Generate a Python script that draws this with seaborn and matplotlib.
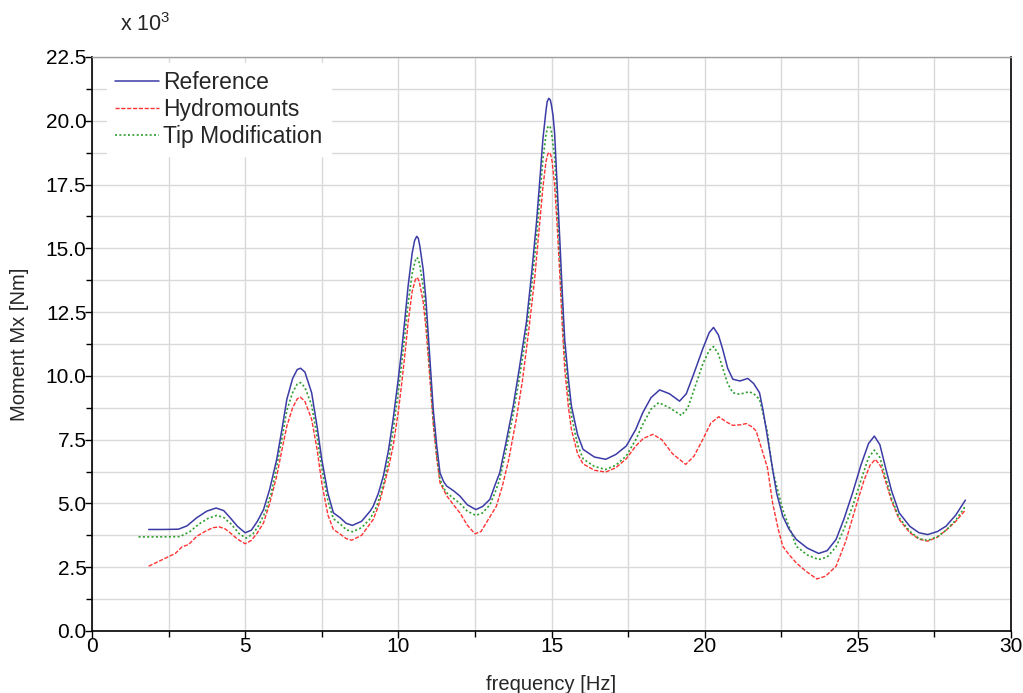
import numpy as np
import pandas as pd
import matplotlib
matplotlib.use("Agg")
import matplotlib.pyplot as plt
from matplotlib.ticker import MultipleLocator, FormatStrFormatter
import seaborn as sns

# ---------------- data (moment values in units of 10^3 Nm) ----------------
ref_f = [1.85, 2.3, 2.82, 3.1, 3.42, 3.75, 4.05, 4.3, 4.51, 4.75, 5.0, 5.2, 5.4, 5.6, 5.8,
         6.03, 6.2, 6.36, 6.55, 6.7, 6.81, 6.95, 7.17, 7.35, 7.5, 7.7, 7.88, 8.1, 8.3, 8.5,
         8.8, 9.08, 9.18, 9.35, 9.51, 9.68, 9.83, 10.0, 10.1, 10.22, 10.32, 10.45, 10.53, 10.6,
         10.65, 10.7, 10.81, 10.9, 10.98, 11.06, 11.14, 11.25, 11.36, 11.48, 11.58, 11.8, 12.01,
         12.25, 12.53, 12.75, 12.99, 13.15, 13.31, 13.5, 13.75, 13.95, 14.18, 14.35, 14.51,
         14.62, 14.72, 14.82, 14.86, 14.91, 14.96, 15.0, 15.05, 15.1, 15.18, 15.27, 15.35, 15.43,
         15.55, 15.65, 15.85, 16.03, 16.4, 16.77, 17.1, 17.44, 17.75, 17.98, 18.25, 18.53, 18.85,
         19.18, 19.4, 19.62, 19.95, 20.15, 20.29, 20.45, 20.59, 20.75, 20.92, 21.15, 21.41, 21.6,
         21.79, 21.9, 22.05, 22.22, 22.35, 22.55, 22.75, 22.99, 23.35, 23.72, 24.0, 24.29,
         24.55, 24.83, 25.1, 25.35, 25.54, 25.72, 25.92, 26.1, 26.35, 26.7, 27.0, 27.28,
         27.6, 27.88, 28.2, 28.51]
ref_m = [3.98, 3.98, 3.99, 4.12, 4.44, 4.70, 4.82, 4.72, 4.44, 4.10, 3.85, 3.95, 4.30, 4.76, 5.55,
         6.73, 7.90, 9.08, 9.90, 10.25, 10.30, 10.15, 9.34, 8.0, 6.73, 5.40, 4.63, 4.44, 4.22, 4.14,
         4.30, 4.70, 4.89, 5.40, 6.07, 7.10, 8.30, 9.90, 10.91, 12.3, 13.53, 14.8, 15.3, 15.47,
         15.4, 15.1, 14.18, 13.0, 11.57, 10.1, 8.69, 7.3, 6.20, 5.85, 5.68, 5.50, 5.29,
         4.95, 4.76, 4.88, 5.16, 5.7, 6.2, 7.3, 8.82, 10.3, 12.09, 14.0, 16.02,
         17.7, 19.29, 20.4, 20.75, 20.88, 20.82, 20.6, 20.2, 19.55, 17.6, 15.36, 13.3, 11.44,
         9.9, 8.82, 7.7, 7.12, 6.82, 6.73, 6.92, 7.25, 7.9, 8.56, 9.15, 9.45, 9.30,
         9.01, 9.30, 10.0, 11.1, 11.7, 11.9, 11.6, 11.04, 10.3, 9.87, 9.80, 9.90, 9.70,
         9.34, 8.69, 7.6, 6.33, 5.4, 4.5, 4.0, 3.59, 3.25, 3.04, 3.15, 3.59,
         4.4, 5.42, 6.5, 7.35, 7.64, 7.3, 6.33, 5.5, 4.63, 4.1, 3.85, 3.78,
         3.9, 4.11, 4.55, 5.13]

hyd_f = [1.85, 2.3, 2.72, 2.93, 3.15, 3.43, 3.70, 3.95, 4.16, 4.35, 4.51, 4.75, 5.0, 5.2, 5.4,
         5.6, 5.8, 6.03, 6.2, 6.36, 6.55, 6.7, 6.8, 6.95, 7.17, 7.35, 7.5, 7.7, 7.88, 8.1,
         8.3, 8.48, 8.8, 9.18, 9.35, 9.51, 9.68, 9.83, 10.0, 10.1, 10.22, 10.32, 10.45, 10.55,
         10.6, 10.65, 10.7, 10.81, 10.9, 10.98, 11.06, 11.14, 11.25, 11.36, 11.58, 11.8, 12.01,
         12.25, 12.5, 12.7, 12.95, 13.2, 13.4, 13.6, 13.85, 14.05, 14.25, 14.45, 14.6, 14.72,
         14.82, 14.88, 14.93, 14.98, 15.02, 15.1, 15.18, 15.27, 15.35, 15.43, 15.55, 15.65,
         15.85, 16.03, 16.4, 16.77, 17.1, 17.44, 17.75, 18.0, 18.31, 18.6, 18.95, 19.38, 19.65,
         19.94, 20.2, 20.46, 20.7, 20.92, 21.15, 21.36, 21.55, 21.68, 21.9, 22.05, 22.22, 22.4,
         22.55, 22.75, 22.99, 23.3, 23.66, 23.95, 24.29, 24.6, 24.94, 25.2, 25.4, 25.57, 25.75,
         25.92, 26.1, 26.35, 26.7, 27.0, 27.28, 27.6, 27.88, 28.2, 28.51]
hyd_m = [2.54, 2.8, 3.04, 3.29, 3.39, 3.72, 3.91, 4.05, 4.08, 4.0, 3.85, 3.6, 3.42, 3.55, 3.85,
         4.24, 5.0, 6.07, 7.1, 8.03, 8.75, 9.1, 9.17, 9.0, 8.3, 7.1, 5.81, 4.55, 3.98, 3.8,
         3.62, 3.56, 3.75, 4.37, 4.9, 5.6, 6.4, 7.25, 8.6, 9.6, 10.9, 12.1, 13.3, 13.75,
         13.86, 13.8, 13.6, 12.9, 11.9, 10.7, 9.4, 8.1, 6.8, 5.81, 5.3, 4.95, 4.63,
         4.15, 3.81, 3.9, 4.4, 4.89, 5.7, 6.7, 8.3, 9.8, 11.7, 13.8, 15.8, 17.4,
         18.4, 18.7, 18.76, 18.65, 18.4, 17.5, 16.0, 14.0, 12.0, 10.3, 8.8, 7.9,
         6.95, 6.55, 6.3, 6.23, 6.4, 6.75, 7.25, 7.55, 7.71, 7.5, 6.95, 6.53, 6.85,
         7.51, 8.15, 8.4, 8.2, 8.06, 8.08, 8.13, 8.0, 7.84, 6.99, 6.4, 5.0, 4.0,
         3.32, 3.0, 2.67, 2.35, 2.04, 2.15, 2.54, 3.5, 4.89, 5.9, 6.5, 6.73, 6.45,
         5.81, 5.1, 4.37, 3.85, 3.6, 3.52, 3.68, 3.95, 4.3, 4.74]

tip_f = [1.52, 2.2, 2.87, 3.2, 3.5, 3.8, 4.07, 4.3, 4.55, 4.8, 5.03, 5.25, 5.45, 5.65, 5.85,
         6.03, 6.2, 6.36, 6.55, 6.7, 6.81, 6.95, 7.17, 7.35, 7.5, 7.7, 7.88, 8.1, 8.3, 8.5,
         8.8, 9.08, 9.3, 9.51, 9.68, 9.83, 10.0, 10.1, 10.22, 10.32, 10.45, 10.55, 10.6, 10.65,
         10.7, 10.81, 10.9, 10.98, 11.06, 11.14, 11.25, 11.36, 11.48, 11.58, 11.8, 12.01, 12.25,
         12.53, 12.75, 12.99, 13.15, 13.31, 13.5, 13.75, 13.95, 14.18, 14.35, 14.51, 14.62,
         14.72, 14.82, 14.87, 14.91, 14.96, 15.0, 15.1, 15.18, 15.27, 15.35, 15.43, 15.55, 15.65,
         15.85, 16.03, 16.4, 16.77, 17.1, 17.44, 17.75, 17.98, 18.25, 18.5, 18.85, 19.24, 19.45,
         19.65, 19.95, 20.15, 20.29, 20.45, 20.59, 20.75, 20.92, 21.14, 21.45, 21.6, 21.79, 21.9,
         22.05, 22.12, 22.22, 22.35, 22.55, 22.75, 22.99, 23.35, 23.72, 24.0, 24.29, 24.55,
         24.83, 25.1, 25.35, 25.54, 25.72, 25.92, 26.1, 26.35, 26.7, 27.0, 27.28, 27.6,
         27.88, 28.2, 28.51]
tip_m = [3.69, 3.69, 3.70, 3.90, 4.20, 4.42, 4.53, 4.45, 4.18, 3.82, 3.64, 3.80, 4.15, 4.65, 5.4,
         6.45, 7.55, 8.65, 9.35, 9.68, 9.74, 9.55, 8.85, 7.6, 6.4, 5.1, 4.4, 4.2, 3.97, 3.89,
         4.05, 4.4, 4.9, 5.75, 6.7, 7.85, 9.4, 10.4, 11.7, 12.85, 14.0, 14.5, 14.64, 14.58,
         14.35, 13.5, 12.4, 11.1, 9.7, 8.35, 6.95, 5.95, 5.6, 5.42, 5.2, 5.0, 4.7,
         4.53, 4.63, 4.95, 5.4, 5.95, 7.0, 8.5, 9.9, 11.7, 13.5, 15.4, 17.0,
         18.5, 19.45, 19.72, 19.81, 19.75, 19.55, 18.6, 16.9, 14.8, 12.8, 11.0, 9.4, 8.45,
         7.3, 6.75, 6.45, 6.33, 6.5, 6.86, 7.5, 8.1, 8.7, 8.95, 8.75, 8.45, 8.75,
         9.45, 10.5, 11.0, 11.15, 10.85, 10.3, 9.7, 9.34, 9.28, 9.38, 9.3, 9.08, 8.55,
         7.8, 7.12, 6.3, 5.68, 4.75, 4.1, 3.32, 2.98, 2.8, 2.9, 3.3, 4.0,
         4.89, 5.9, 6.8, 7.09, 6.8, 5.95, 5.2, 4.44, 3.9, 3.62, 3.55, 3.7,
         3.95, 4.35, 4.89]

series_names = ["Reference", "Hydromounts", "Tip Modification"]
x_label = "frequency [Hz]"
y_label = "Moment Mx [Nm]"

# ---------------- styling ----------------
sns.set_theme(style="white")
plt.rcParams["font.family"] = ["Liberation Sans", "DejaVu Sans"]
plt.rcParams["mathtext.fontset"] = "custom"
plt.rcParams["mathtext.rm"] = "Liberation Sans"
plt.rcParams["mathtext.it"] = "Liberation Sans"

fig = plt.figure(figsize=(10.23, 6.93), dpi=100)
ax = fig.add_axes([92 / 1023, 62 / 693, (1011 - 92) / 1023, (631 - 57) / 693])

df_ref = pd.DataFrame({"f": ref_f, "m": ref_m})
df_hyd = pd.DataFrame({"f": hyd_f, "m": hyd_m})
df_tip = pd.DataFrame({"f": tip_f, "m": tip_m})

sns.lineplot(data=df_ref, x="f", y="m", ax=ax, color="#3b3ba6", lw=1.1,
             label=series_names[0], sort=False, estimator=None, zorder=5)
sns.lineplot(data=df_hyd, x="f", y="m", ax=ax, color="#ff3333", lw=1.0,
             linestyle=(0, (3, 1.2)), label=series_names[1], sort=False,
             estimator=None, zorder=3)
sns.lineplot(data=df_tip, x="f", y="m", ax=ax, color="#2e9e2e", lw=1.2,
             linestyle=(0, (1.2, 1.4)), label=series_names[2], sort=False,
             estimator=None, zorder=4)

ax.set_xlim(0, 30)
ax.set_ylim(0, 22.5)
ax.xaxis.set_major_locator(MultipleLocator(5))
ax.xaxis.set_minor_locator(MultipleLocator(2.5))
ax.yaxis.set_major_locator(MultipleLocator(2.5))
ax.yaxis.set_minor_locator(MultipleLocator(1.25))
ax.yaxis.set_major_formatter(FormatStrFormatter("%.1f"))
ax.xaxis.set_major_formatter(FormatStrFormatter("%d"))

ax.grid(True, which="both", color="#d9d9d9", lw=1.0, zorder=0)
ax.set_axisbelow(True)

ax.tick_params(axis="y", which="major", direction="out", length=5, width=1,
               colors="black", labelsize=15, left=True, pad=-1)
ax.tick_params(axis="x", which="major", direction="out", length=5, width=1,
               colors="black", labelsize=15, bottom=True, pad=-1)
ax.tick_params(axis="both", which="minor", direction="out", length=4, width=1,
               colors="black", bottom=True, left=True)

for side in ["left", "bottom", "right"]:
    ax.spines[side].set_color("black")
    ax.spines[side].set_linewidth(1.2)
ax.spines["top"].set_color("#a0a0a0")
ax.spines["top"].set_linewidth(1.0)

ax.set_xlabel(x_label, fontsize=14.5)
ax.xaxis.set_label_coords(0.5, -(675 - 631) / 574)
ax.set_ylabel(y_label, fontsize=14.5)
ax.yaxis.set_label_coords(-(92 - 29) / 919, 0.5)

leg = ax.legend(loc="upper left", bbox_to_anchor=(6 / 919, 1.0 + 3 / 574), fontsize=16.5,
                frameon=True, fancybox=False, framealpha=1.0, edgecolor="white",
                facecolor="white", handlelength=1.9, handletextpad=0.2,
                labelspacing=0.18, borderpad=0.35, borderaxespad=0.4)
leg.set_zorder(10)

fig.text(120 / 1023, 1 - 25 / 693, r"x 10$^3$", fontsize=15.5, va="center", ha="left")

fig.savefig("out.png", dpi=100)
